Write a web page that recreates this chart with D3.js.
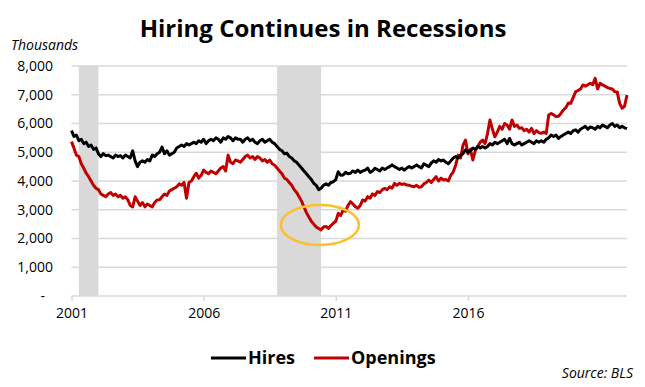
<!DOCTYPE html>
<html>
<head>
<meta charset="utf-8">
<script src="https://cdn.jsdelivr.net/npm/d3@7"></script>
<style>
  body { margin: 0; background: #fff; }
  text { font-family: "Open Sans", "Noto Sans", sans-serif; }
</style>
</head>
<body>
<div class="container"></div>
<script>
// chart size
var w = 645;
var h = 387;

// monthly data, Dec 2000 onward (thousands)
var hires = [
  5750, 5550, 5600, 5400, 5450, 5300, 5350, 5200, 5250, 5100, 5150, 4950,
  4850, 4950, 4880, 4900, 4850, 4800, 4900, 4850, 4880, 4800, 4900, 4850,
  4800, 5050, 4700, 4500, 4650, 4700, 4650, 4750, 4700, 4900, 4850, 4950,
  5000, 5180, 4950, 5050, 4900, 4950, 5000, 5150, 5200, 5250, 5200, 5300,
  5250, 5300, 5350, 5300, 5400, 5350, 5450, 5300, 5400, 5450, 5400, 5500,
  5450, 5350, 5500, 5450, 5550, 5500, 5400, 5500, 5450, 5450, 5350, 5450,
  5500, 5400, 5450, 5350, 5300, 5400, 5450, 5350, 5400, 5450, 5350, 5300,
  5200, 5100, 5050, 4950, 4970, 4850, 4800, 4700, 4650, 4550, 4450, 4350,
  4250, 4150, 4050, 3920, 3850, 3700, 3750, 3850, 3900, 3850, 3950, 3975,
  4050, 4320, 4200, 4210, 4300, 4250, 4270, 4350, 4300, 4380, 4300, 4350,
  4380, 4450, 4300, 4350, 4440, 4400, 4350, 4450, 4400, 4450, 4500, 4560,
  4500, 4450, 4400, 4450, 4380, 4450, 4500, 4450, 4500, 4560, 4500, 4450,
  4600, 4550, 4500, 4620, 4700, 4650, 4750, 4700, 4730, 4650, 4600, 4700,
  4800, 4850, 4800, 4900, 4950, 5080, 5000, 5050, 5150, 5100, 5200, 5150,
  5200, 5150, 5200, 5300, 5250, 5350, 5300, 5350, 5400, 5450, 5300, 5480,
  5300, 5250, 5300, 5350, 5250, 5300, 5350, 5400, 5350, 5300, 5400, 5350,
  5400, 5350, 5450, 5500, 5600, 5550, 5600, 5480, 5550, 5600, 5650, 5700,
  5650, 5750, 5780, 5700, 5800, 5850, 5900, 5800, 5880, 5850, 5800, 5900,
  5850, 5950, 5900, 5850, 5950, 6000, 5900, 5950, 5850, 5900, 5850, 5820
];

var openings = [
  5370, 5150, 4900, 4850, 4600, 4450, 4270, 4150, 4000, 3850, 3750, 3700,
  3550, 3500, 3450, 3550, 3600, 3500, 3550, 3450, 3500, 3400, 3450, 3350,
  3150, 3100, 3450, 3300, 3150, 3250, 3100, 3200, 3150, 3100, 3250, 3340,
  3350, 3450, 3550, 3500, 3650, 3700, 3750, 3800, 3900, 3850, 3950, 3400,
  3950, 4000, 4150, 4270, 4100, 4200, 4380, 4300, 4250, 4350, 4300, 4250,
  4350, 4450, 4500, 4350, 4900, 4650, 4600, 4730, 4700, 4650, 4750, 4850,
  4900, 4800, 4850, 4750, 4850, 4800, 4700, 4750, 4650, 4730, 4600, 4550,
  4450, 4350, 4250, 4100, 4050, 3950, 3850, 3700, 3600, 3450, 3300, 3100,
  2900, 2750, 2600, 2500, 2400, 2350, 2300, 2400, 2420, 2350, 2450, 2530,
  2600, 2875, 2800, 2990, 2950, 3150, 3280, 3200, 3105, 3050, 3150, 3340,
  3300, 3455, 3400, 3550, 3500, 3630, 3600, 3700, 3745, 3700, 3800, 3750,
  3920, 3850, 3920, 3880, 3900, 3860, 3850, 3820, 3800, 3850, 3780, 3800,
  3900, 3950, 4035, 3950, 4050, 4150, 4000, 4100, 4035, 4050, 4000, 4200,
  4320, 4550, 4900, 4800, 5250, 5425, 4950, 5100, 4730, 5050, 5200, 5350,
  5425, 5300, 5650, 6120, 5800, 5540, 5700, 5900, 5800, 6000, 5950, 5800,
  6120, 5900, 5950, 5830, 5850, 5750, 5800, 5700, 5830, 5650, 5750, 5680,
  5660, 5700, 5650, 6295, 6350, 6300, 6240, 6250, 6350, 6470, 6550, 6710,
  6700, 6900, 7100, 7150, 7200, 7340, 7300, 7350, 7400, 7350, 7570, 7200,
  7400, 7340, 7300, 7250, 7220, 7200, 7105, 7100, 6700, 6530, 6600, 6990
];

// recessions as month index ranges
var recessions = [[3, 11], [84, 102]];

// x axis ticks (month index) and labels
var tickIdx = [0, 54, 108, 162];
var tickLabels = ["2001", "2006", "2011", "2016"];

var yTicks = [0, 1000, 2000, 3000, 4000, 5000, 6000, 7000, 8000];

var x = d3.scaleLinear()
    .domain([0, hires.length - 1])
    .range([71.5, 627]);

var y = d3.scaleLinear()
    .domain([0, 8000])
    .range([296, 66]);

var svg = d3.select(".container")
    .append("svg")
    .attr("width", w)
    .attr("height", h);

// title
svg.append("text")
    .attr("x", 323)
    .attr("y", 37)
    .attr("text-anchor", "middle")
    .attr("font-family", "Lato, sans-serif")
    .attr("font-weight", "bold")
    .attr("font-size", 24)
    .attr("fill", "#000")
    .text("Hiring Continues in Recessions");

svg.append("text")
    .attr("x", 11)
    .attr("y", 50)
    .attr("font-style", "italic")
    .attr("font-size", 14)
    .attr("fill", "#000")
    .text("Thousands");

// recession bars
svg.selectAll(".recession")
    .data(recessions)
    .enter()
    .append("rect")
    .attr("class", "recession")
    .attr("x", function(d) { return x(d[0]); })
    .attr("width", function(d) { return x(d[1]) - x(d[0]); })
    .attr("y", y(8000))
    .attr("height", y(0) - y(8000))
    .attr("fill", "#d9d9d9");

// gridlines
svg.selectAll(".grid")
    .data(yTicks.slice(1))
    .enter()
    .append("line")
    .attr("class", "grid")
    .attr("x1", x.range()[0])
    .attr("x2", x.range()[1])
    .attr("y1", function(d) { return y(d); })
    .attr("y2", function(d) { return y(d); })
    .attr("stroke", "#d9d9d9")
    .attr("stroke-width", 1.5);

// y labels
var yAxis = svg.append("g")
    .attr("transform", "translate(53,0)")
    .call(d3.axisLeft(y)
        .tickValues(yTicks)
        .tickSize(0)
        .tickPadding(0)
        .tickFormat(function(d) { return d === 0 ? "-" : d3.format(",")(d); }));
yAxis.select(".domain").remove();
yAxis.selectAll("text")
    .attr("font-family", "Open Sans, sans-serif")
    .attr("font-size", 14)
    .attr("fill", "#000");
yAxis.selectAll(".tick")
    .filter(function(d) { return d === 0; })
    .select("text")
    .attr("dx", -8);

// x axis
var xAxis = svg.append("g")
    .attr("transform", "translate(0," + y(0) + ")")
    .call(d3.axisBottom(x)
        .tickValues(tickIdx)
        .tickSize(5)
        .tickPadding(7)
        .tickFormat(function(d, i) { return tickLabels[i]; }));
xAxis.select(".domain")
    .attr("stroke", "#d9d9d9")
    .attr("stroke-width", 1.5)
    .attr("d", "M" + x.range()[0] + ",0H" + x.range()[1]);
xAxis.selectAll("line")
    .attr("stroke", "#d9d9d9")
    .attr("stroke-width", 1.5);
xAxis.selectAll("text")
    .attr("font-family", "Open Sans, sans-serif")
    .attr("font-size", 14)
    .attr("fill", "#000");

// lines
var line = d3.line()
    .x(function(d, i) { return x(i); })
    .y(function(d) { return y(d); });

svg.append("path")
    .datum(openings)
    .attr("fill", "none")
    .attr("stroke", "#c00000")
    .attr("stroke-width", 3)
    .attr("stroke-linejoin", "round")
    .attr("d", line);

svg.append("path")
    .datum(hires)
    .attr("fill", "none")
    .attr("stroke", "#000")
    .attr("stroke-width", 3)
    .attr("stroke-linejoin", "round")
    .attr("d", line);

// highlight around the trough
svg.append("ellipse")
    .attr("cx", x(101.5))
    .attr("cy", y(2470))
    .attr("rx", 39)
    .attr("ry", 20)
    .attr("fill", "none")
    .attr("stroke", "#fbc02d")
    .attr("stroke-width", 2.5);

// legend
var legendItems = [
  {name: "Hires", color: "#000", x: 211},
  {name: "Openings", color: "#c00000", x: 314}
];

var legend = svg.append("g").attr("class", "key");

legend.selectAll("line")
    .data(legendItems)
    .enter()
    .append("line")
    .attr("x1", function(d) { return d.x; })
    .attr("x2", function(d) { return d.x + 35; })
    .attr("y1", 358)
    .attr("y2", 358)
    .attr("stroke", function(d) { return d.color; })
    .attr("stroke-width", 3);

legend.selectAll("text")
    .data(legendItems)
    .enter()
    .append("text")
    .attr("x", function(d) { return d.x + 37; })
    .attr("y", 364)
    .attr("font-family", "Lato, sans-serif")
    .attr("font-weight", "bold")
    .attr("font-size", 18)
    .attr("fill", "#000")
    .text(function(d) { return d.name; });

svg.append("text")
    .attr("x", 633)
    .attr("y", 378)
    .attr("text-anchor", "end")
    .attr("font-style", "italic")
    .attr("font-size", 14)
    .attr("fill", "#000")
    .text("Source: BLS");
</script>
</body>
</html>
